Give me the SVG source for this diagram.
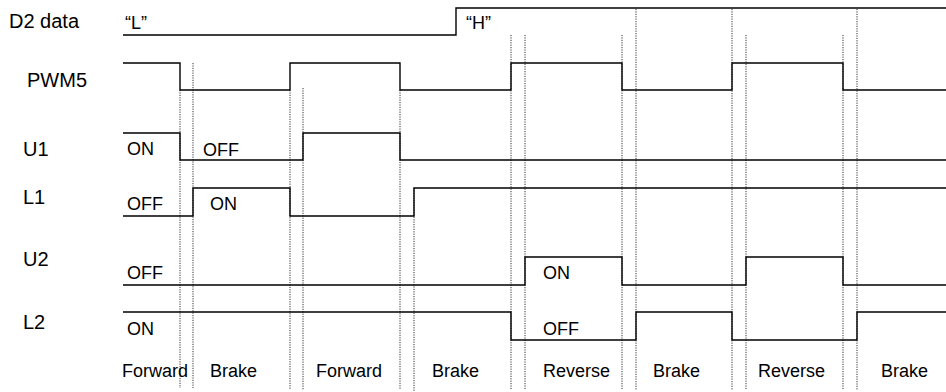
<svg xmlns="http://www.w3.org/2000/svg" width="946" height="392" viewBox="0 0 946 392">
<style>
.sig{fill:none;stroke:#000;stroke-width:1.4;stroke-linejoin:miter}
.dot{stroke:#333;stroke-width:1;stroke-dasharray:1.2 1.2}
.lbl{font-family:"Liberation Sans",Arial,sans-serif;font-size:20px;fill:#000}
.txt{font-family:"Liberation Sans",Arial,sans-serif;font-size:18px;fill:#000}
</style>
<rect width="946" height="392" fill="#fff"/>
<g id="connectors">
<line class="dot" x1="180" y1="90" x2="180" y2="388"/>
<line class="dot" x1="193" y1="63" x2="193" y2="388"/>
<line class="dot" x1="290" y1="90" x2="290" y2="390"/>
<line class="dot" x1="303" y1="88" x2="303" y2="390"/>
<line class="dot" x1="400" y1="90" x2="400" y2="390"/>
<line class="dot" x1="414" y1="188" x2="414" y2="392"/>
<line class="dot" x1="511" y1="35" x2="511" y2="390"/>
<line class="dot" x1="525" y1="35" x2="525" y2="390"/>
<line class="dot" x1="622" y1="35" x2="622" y2="390"/>
<line class="dot" x1="636" y1="9" x2="636" y2="390"/>
<line class="dot" x1="732" y1="9" x2="732" y2="390"/>
<line class="dot" x1="746" y1="35" x2="746" y2="390"/>
<line class="dot" x1="843" y1="35" x2="843" y2="390"/>
<line class="dot" x1="857" y1="9" x2="857" y2="390"/>
</g>
<g id="d2data">
<text class="lbl" x="9" y="28">D2 data</text>
<polyline class="sig" points="123,35 456,35 456,8 946,8"/>
<text class="txt" x="125" y="29">“L”</text>
<text class="txt" x="466" y="29">“H”</text>
</g>
<g id="pwm5">
<text class="lbl" x="27" y="87">PWM5</text>
<polyline class="sig" points="123,63 180,63 180,90 290,90 290,63 400,63 400,90 511,90 511,63 622,63 622,90 732,90 732,63 843,63 843,90 946,90"/>
</g>
<g id="u1">
<text class="lbl" x="23" y="156">U1</text>
<polyline class="sig" points="123,133 180,133 180,160 303,160 303,133 400,133 400,160 946,160"/>
<text class="txt" x="127" y="155">ON</text>
<text class="txt" x="203" y="156">OFF</text>
</g>
<g id="l1">
<text class="lbl" x="23" y="204">L1</text>
<polyline class="sig" points="123,216 193,216 193,188 290,188 290,216 414,216 414,188 946,188"/>
<text class="txt" x="127" y="210">OFF</text>
<text class="txt" x="210" y="210">ON</text>
</g>
<g id="u2">
<text class="lbl" x="23" y="266">U2</text>
<polyline class="sig" points="123,285 525,285 525,257 622,257 622,285 746,285 746,257 843,257 843,285 946,285"/>
<text class="txt" x="127" y="279">OFF</text>
<text class="txt" x="543" y="279">ON</text>
</g>
<g id="l2">
<text class="lbl" x="23" y="329">L2</text>
<polyline class="sig" points="123,312 511,312 511,340 636,340 636,312 732,312 732,340 857,340 857,312 946,312"/>
<text class="txt" x="127" y="335">ON</text>
<text class="txt" x="543" y="335">OFF</text>
</g>
<g id="states">
<text class="txt" x="122" y="377">Forward</text>
<text class="txt" x="210" y="377">Brake</text>
<text class="txt" x="316" y="377">Forward</text>
<text class="txt" x="432" y="377">Brake</text>
<text class="txt" x="543" y="377">Reverse</text>
<text class="txt" x="653" y="377">Brake</text>
<text class="txt" x="758" y="377">Reverse</text>
<text class="txt" x="881" y="377">Brake</text>
</g>
</svg>
